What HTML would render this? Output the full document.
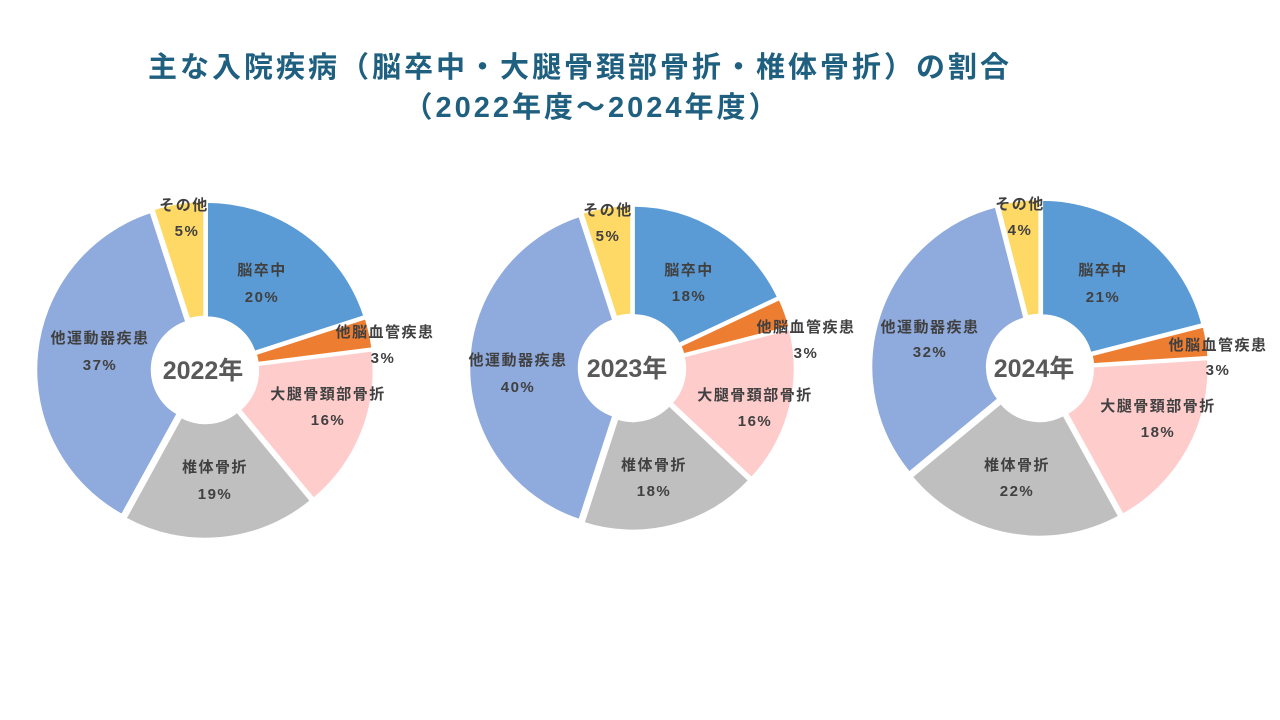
<!DOCTYPE html>
<html><head><meta charset="utf-8"><style>
body{margin:0;width:1280px;height:720px;background:#fff;overflow:hidden;font-family:"Liberation Sans","Noto Sans CJK JP",sans-serif}
.t{position:absolute;left:0;width:1160px;text-align:center;color:#1F5F7F;font-weight:bold;font-size:29px;letter-spacing:3px;white-space:nowrap}
svg text{font-family:"Liberation Sans","Noto Sans CJK JP",sans-serif;font-weight:bold;text-anchor:middle;fill:#404040}
.l text{letter-spacing:1.5px}
</style></head><body>
<div class="t" style="top:44px">主な入院疾病（脳卒中・大腿骨頚部骨折・椎体骨折）の割合</div>
<div class="t" style="top:84px;left:12px">（2022年度～2024年度）</div>
<svg id="s" width="1280" height="720" style="position:absolute;left:0;top:0">
<g id="p"></g>
<g font-size="15" class="l">
<text x="262" y="275">脳卒中</text><text x="262" y="302">20%</text>
<text x="385" y="337">他脳血管疾患</text><text x="383" y="363">3%</text>
<text x="328" y="399">大腿骨頚部骨折</text><text x="328" y="425">16%</text>
<text x="215" y="472">椎体骨折</text><text x="215" y="499">19%</text>
<text x="100" y="343">他運動器疾患</text><text x="100" y="370">37%</text>
<text x="184" y="210">その他</text><text x="187" y="236">5%</text>

<text x="689" y="275">脳卒中</text><text x="689" y="301">18%</text>
<text x="806" y="332">他脳血管疾患</text><text x="806" y="358">3%</text>
<text x="755" y="400">大腿骨頚部骨折</text><text x="755" y="426">16%</text>
<text x="654" y="470">椎体骨折</text><text x="654" y="496">18%</text>
<text x="518" y="365">他運動器疾患</text><text x="518" y="392">40%</text>
<text x="608" y="215">その他</text><text x="608" y="241">5%</text>

<text x="1103" y="275">脳卒中</text><text x="1103" y="302">21%</text>
<text x="1218" y="350">他脳血管疾患</text><text x="1218" y="375">3%</text>
<text x="1158" y="411">大腿骨頚部骨折</text><text x="1158" y="437">18%</text>
<text x="1017" y="470">椎体骨折</text><text x="1017" y="496">22%</text>
<text x="930" y="332">他運動器疾患</text><text x="930" y="357">32%</text>
<text x="1020" y="209">その他</text><text x="1020" y="235">4%</text>
</g>
<g font-size="25">
<text x="203" y="379" style="fill:#595959">2022年</text>
<text x="627" y="377" style="fill:#595959">2023年</text>
<text x="1034" y="377" style="fill:#595959">2024年</text>
</g>
</svg>
<script>
var cols=["#5B9BD5","#ED7D31","#FFCCCC","#BFBFBF","#8FAADC","#FFD966"];
var charts=[[205,370,166,[20,3,16,19,37,5]],[632,368,160,[18,3,16,18,40,5]],[1040,368,166,[21,3,18,22,32,4]]];
var g=document.getElementById("p"),h="";
charts.forEach(function(c){
 var cx=c[0],cy=c[1],R=c[2],r=50,v=c[3],t=v.reduce(function(a,b){return a+b},0),a=0;
 v.forEach(function(val,i){
  var a0=a/t*2*Math.PI,a1=(a+val)/t*2*Math.PI;a+=val;
  var am=(a0+a1)/2,ox=3*Math.sin(am),oy=-3*Math.cos(am);
  var x=cx+ox,y=cy+oy,lg=(a1-a0)>Math.PI?1:0;
  function P(rr,aa){return (x+rr*Math.sin(aa)).toFixed(2)+","+(y-rr*Math.cos(aa)).toFixed(2)}
  h+='<path d="M'+P(R,a0)+' A'+R+','+R+' 0 '+lg+' 1 '+P(R,a1)+' L'+P(r,a1)+' A'+r+','+r+' 0 '+lg+' 0 '+P(r,a0)+'Z" fill="'+cols[i]+'" stroke="#fff" stroke-width="2.5"/>';
 });
});
g.innerHTML=h;
</script>
</body></html>
